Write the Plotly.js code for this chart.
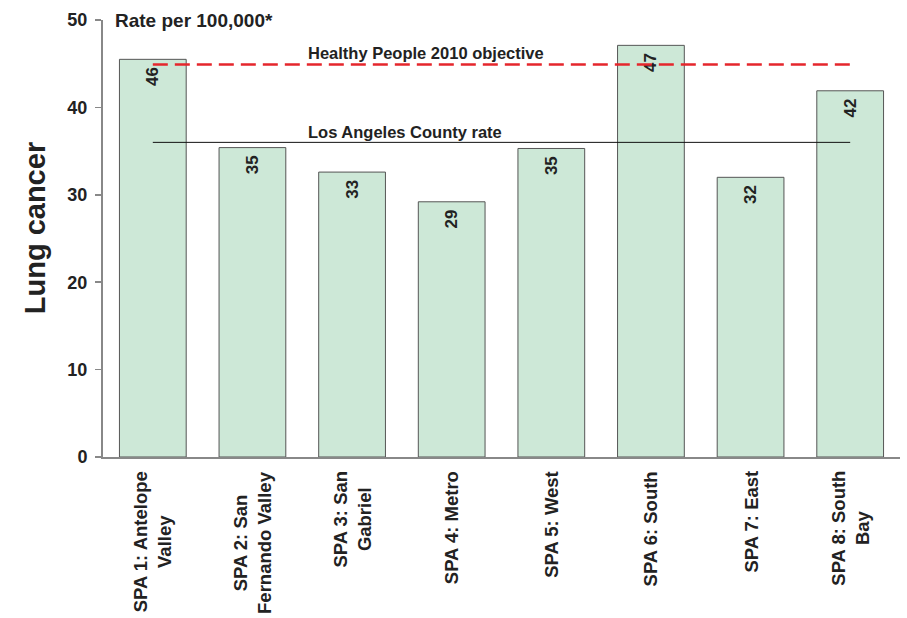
<!DOCTYPE html>
<html>
<head>
<meta charset="utf-8">
<script src="https://cdn.plot.ly/plotly-3.0.1.min.js"></script>
<style>html,body{margin:0;padding:0;background:#fff;}#chart{width:907px;height:618px;}</style>
</head>
<body>
<div id="chart"></div>
<script>
const categories = [
  "SPA 1: Antelope<br>Valley",
  "SPA 2: San<br>Fernando Valley",
  "SPA 3: San<br>Gabriel",
  "SPA 4: Metro",
  "SPA 5: West",
  "SPA 6: South",
  "SPA 7: East",
  "SPA 8: South<br>Bay"
];
const rates = [45.5, 35.4, 32.6, 29.2, 35.3, 47.1, 32.0, 41.9];
const rateLabels = ["46", "35", "33", "29", "35", "47", "32", "42"];
const healthyPeople2010 = 44.9;
const laCountyRate = 36.0;
const yTicks = [0, 10, 20, 30, 40, 50];

const FONT = "Liberation Sans, Arial, Helvetica, sans-serif";

const bars = {
  type: "bar",
  x: categories,
  y: rates,
  text: rateLabels.map(s => s + " "),
  textposition: "inside",
  insidetextanchor: "end",
  textangle: -90,
  constraintext: "none",
  textfont: {family: FONT, size: 17, color: "#222", weight: "bold"},
  marker: {color: "#cde8d7", line: {color: "#555", width: 1}},
  width: 0.67,
  hoverinfo: "none",
  showlegend: false
};

const hpLine = {
  type: "scatter",
  mode: "lines",
  x: [categories[0], categories[categories.length - 1]],
  y: [healthyPeople2010, healthyPeople2010],
  line: {color: "#e5262c", width: 2.5, dash: "15px,7px"},
  hoverinfo: "none",
  showlegend: false
};

const laLine = {
  type: "scatter",
  mode: "lines",
  x: [categories[0], categories[categories.length - 1]],
  y: [laCountyRate, laCountyRate],
  line: {color: "#111", width: 1},
  hoverinfo: "none",
  showlegend: false
};

const categoryLabels = categories.map(c => ({
  text: c,
  xref: "x", yref: "paper",
  x: c, y: 0,
  xanchor: "center", yanchor: "top",
  yshift: -12,
  textangle: -90,
  align: "center",
  showarrow: false,
  font: {family: FONT, size: 18.5, color: "#222", weight: "bold"}
}));

const layout = {
  width: 907,
  height: 618,
  margin: {l: 103, r: 7, t: 20, b: 161},
  paper_bgcolor: "#fff",
  plot_bgcolor: "#fff",
  font: {family: FONT, color: "#222"},
  xaxis: {
    type: "category",
    showticklabels: false,
    showline: true,
    linecolor: "#888",
    linewidth: 1.5,
    ticks: "",
    showgrid: false,
    zeroline: false,
    fixedrange: true
  },
  yaxis: {
    range: [0, 50],
    tickvals: yTicks,
    ticktext: yTicks.map(String),
    tickfont: {family: FONT, size: 18, color: "#222", weight: "bold"},
    ticks: "outside",
    ticklen: 6,
    tickcolor: "#888",
    tickwidth: 1.5,
    ticklabelstandoff: 4,
    showline: true,
    linecolor: "#888",
    linewidth: 2,
    showgrid: false,
    zeroline: false,
    fixedrange: true
  },
  annotations: [
    {
      text: "Lung cancer",
      xref: "paper", yref: "paper",
      x: -0.085, y: 0.524,
      xanchor: "center", yanchor: "middle",
      textangle: -90,
      showarrow: false,
      font: {family: FONT, size: 29, color: "#222", weight: "bold"}
    },
    {
      text: "Rate per 100,000*",
      xref: "paper", yref: "paper",
      x: 0.012, y: 1,
      xanchor: "left", yanchor: "middle",
      showarrow: false,
      font: {family: FONT, size: 19, color: "#222", weight: "bold"}
    },
    {
      text: "Healthy People 2010 objective",
      xref: "paper", yref: "y",
      x: 0.255, y: healthyPeople2010 + 1.3,
      xanchor: "left", yanchor: "middle",
      showarrow: false,
      font: {family: FONT, size: 16.5, color: "#222", weight: "bold"}
    },
    {
      text: "Los Angeles County rate",
      xref: "paper", yref: "y",
      x: 0.255, y: laCountyRate + 1.2,
      xanchor: "left", yanchor: "middle",
      showarrow: false,
      font: {family: FONT, size: 16.5, color: "#222", weight: "bold"}
    }
  ].concat(categoryLabels)
};

Plotly.newPlot("chart", [bars, laLine, hpLine], layout, {displayModeBar: false, staticPlot: true});
</script>
</body>
</html>
